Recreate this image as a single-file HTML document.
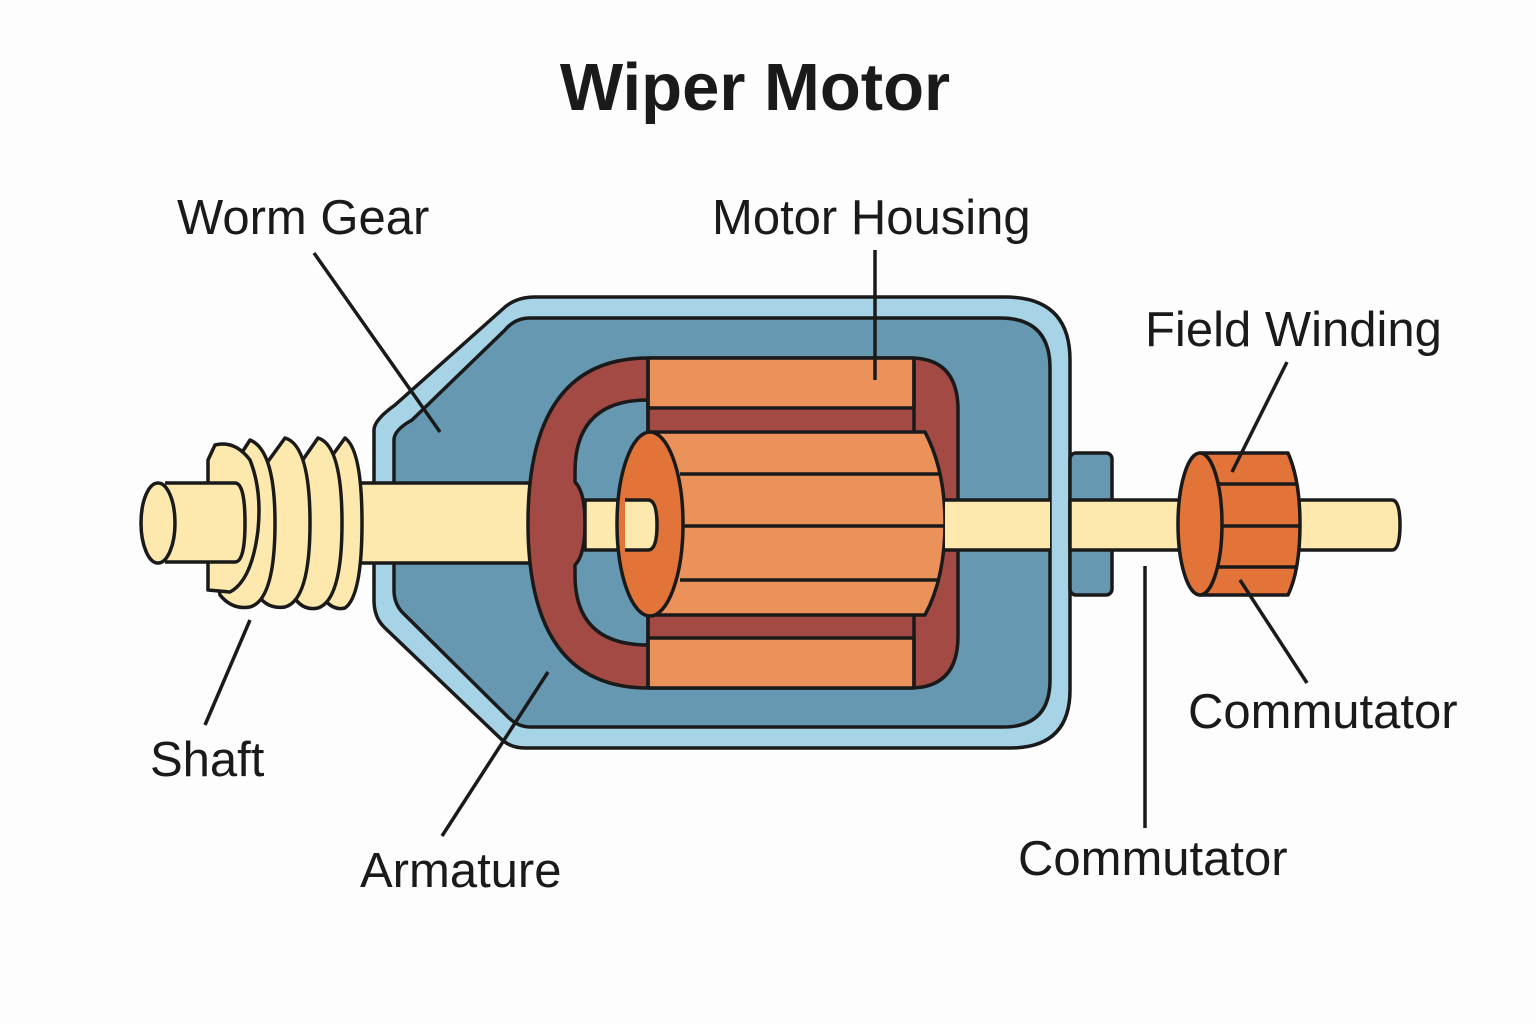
<!DOCTYPE html>
<html><head><style>
html,body{margin:0;padding:0;background:#fdfdfd;}
svg{display:block}
text{font-family:"Liberation Sans",sans-serif;fill:#1a1a1a}
</style></head><body>
<svg width="1536" height="1024" viewBox="0 0 1536 1024" xmlns="http://www.w3.org/2000/svg">
<rect width="1536" height="1024" fill="#fdfdfd"/>
<text x="755" y="110" font-size="67" font-weight="bold" text-anchor="middle">Wiper Motor</text>
<g font-size="49">
<text x="177" y="234">Worm Gear</text>
<text x="712" y="234">Motor Housing</text>
<text x="1145" y="346">Field Winding</text>
<text x="1188" y="728">Commutator</text>
<text x="150" y="776">Shaft</text>
<text x="360" y="887">Armature</text>
<text x="1018" y="875">Commutator</text>
</g>
<g stroke="#1a1a1a" stroke-width="3.5" stroke-linejoin="round">
<path d="M395,405 L505,307 Q517,297 535,297 L1005,297 Q1070,297 1070,360 L1070,690 Q1070,748 1010,748 L525,748 Q510,748 500,738 L385,628 Q374,618 374,600 L374,430 Q374,420 395,405Z" fill="#A7D3E6"/>
<path d="M412,420 L505,330 Q515,318 530,318 L1000,318 Q1050,318 1050,368 L1050,680 Q1050,727 1003,727 L530,727 Q518,727 508,717 L402,612 Q394,603 394,590 L394,440 Q394,430 412,420Z" fill="#6699B1"/>
<rect x="1070" y="453" width="42" height="142" rx="6" fill="#6699B1"/>
<rect x="340" y="483" width="200" height="80" fill="#FDE8AE"/>
<path d="M648,358 L910,358 Q958,358 958,410 L958,636 Q958,688 910,688 L648,688 Q528,688 528,523 Q528,358 648,358Z" fill="#A34A45"/>
<path d="M648,400 L648,645 Q575,645 575,575 L575,565 Q585,555 585,523 Q585,492 575,482 L575,472 Q575,400 648,400Z" fill="#6699B1"/>
<rect x="648" y="358" width="266" height="50" fill="#EB915A"/>
<rect x="648" y="638" width="266" height="50" fill="#EB915A"/>
<line x1="914" y1="358" x2="914" y2="688"/>
<line x1="648" y1="358" x2="648" y2="688"/>
<rect x="585" y="500" width="72" height="50" fill="#FDE8AE"/>
<path d="M650,432 L925,432 Q945,470 945,523 Q945,578 925,615 L650,615Z" fill="#EB915A"/>
<line x1="680" y1="474" x2="940" y2="474"/>
<line x1="684" y1="526" x2="945" y2="526"/>
<line x1="680" y1="580" x2="940" y2="580"/>
<ellipse cx="650" cy="524" rx="33" ry="92" fill="#E2743A"/>
<path d="M625,500 L648,500 Q657,500 657,525 Q657,550 648,550 L625,550" fill="#FDE8AE"/>
<rect x="945" y="500" width="105" height="50" fill="#FDE8AE" stroke="none"/>
<line x1="945" y1="500" x2="1050" y2="500"/><line x1="945" y1="550" x2="1050" y2="550"/>
<rect x="1070" y="500" width="135" height="50" fill="#FDE8AE"/>
<path d="M1295,500 L1392,500 Q1400,500 1400,525 Q1400,550 1392,550 L1295,550" fill="#FDE8AE"/>
<path d="M1200,453 L1288,453 Q1300,480 1300,524 Q1300,570 1288,595 L1200,595Z" fill="#E2743A"/>
<line x1="1212" y1="484" x2="1298" y2="484"/>
<line x1="1220" y1="526" x2="1300" y2="526"/>
<line x1="1212" y1="567" x2="1298" y2="567"/>
<ellipse cx="1200" cy="524" rx="22" ry="71" fill="#E2743A"/>
<g fill="#FDE8AE">
<path d="M345,438 Q362,450 362,523 Q362,596 345,608 Q330,612 318,590 L300,500Z"/>
<path d="M318,438 Q342,445 342,523 Q342,600 318,608 Q300,612 290,590 L275,500Z"/>
<path d="M285,438 Q310,445 310,523 Q310,600 285,607 Q265,610 255,590 L240,500Z"/>
<path d="M250,440 Q275,450 275,523 Q275,600 250,607 Q232,610 220,595 L205,510Z"/>
<path d="M215,445 Q235,440 250,460 Q262,490 258,530 Q252,580 230,592 L208,590 L208,460Z"/>
</g>
<path d="M165,483 L235,483 Q245,483 245,523 Q245,562 235,562 L165,562" fill="#FDE8AE"/>
<ellipse cx="158" cy="523" rx="17" ry="40" fill="#FDE8AE"/>
<g fill="none">
<line x1="314" y1="253" x2="440" y2="432"/>
<line x1="875" y1="250" x2="875" y2="380"/>
<line x1="1287" y1="362" x2="1232" y2="472"/>
<line x1="1240" y1="580" x2="1307" y2="683"/>
<line x1="1145" y1="566" x2="1145" y2="828"/>
<line x1="250" y1="620" x2="205" y2="725"/>
<line x1="548" y1="672" x2="442" y2="836"/>
</g>
</g>
</svg>
</body></html>
